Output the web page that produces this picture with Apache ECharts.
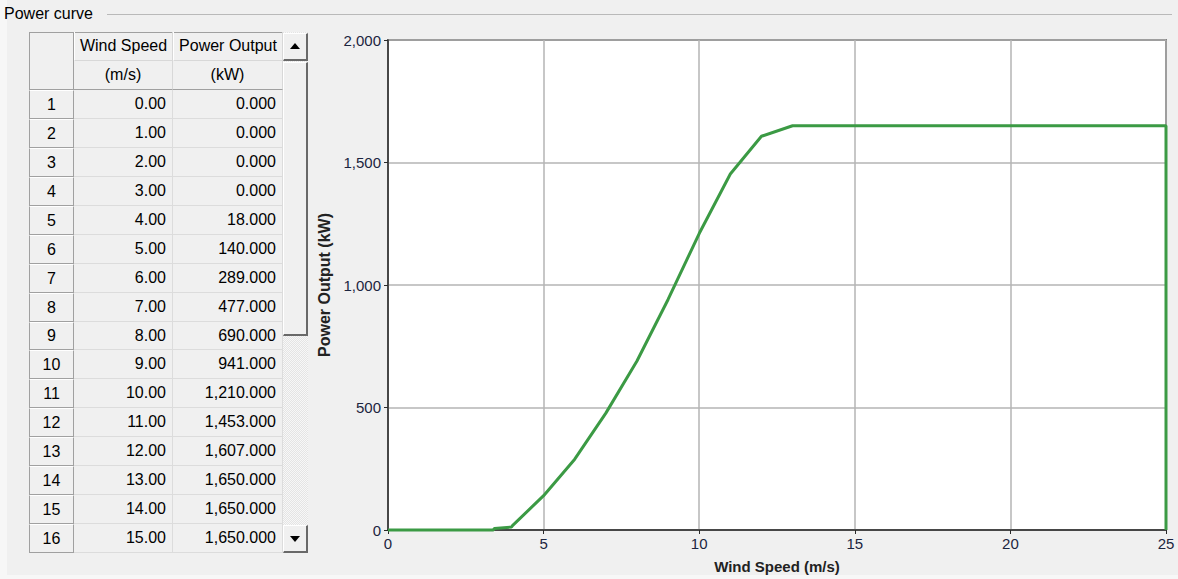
<!DOCTYPE html>
<html>
<head>
<meta charset="utf-8">
<script src="https://cdn.jsdelivr.net/npm/echarts@6/dist/echarts.min.js"></script>
<style>
html,body{margin:0;padding:0;width:1178px;height:579px;background:#f0f0f0;overflow:hidden;font-family:"Liberation Sans",Arial,sans-serif;}
#chart{position:absolute;left:0;top:0;width:1178px;height:579px;z-index:1;}
#ui{position:absolute;left:0;top:0;width:1178px;height:579px;z-index:2;pointer-events:none;}
.abs{position:absolute;box-sizing:border-box;}
.txt{font-size:16px;color:#000;line-height:1;display:flex;align-items:center;white-space:nowrap;}
</style>
</head>
<body>
<div id="chart"></div>
<div id="ui"></div>
<script>
// ---- data ----
const groupTitle = "Power curve";
const colHeaders = ["Wind Speed", "Power Output"];
const colUnits = ["(m/s)", "(kW)"];
const tableRowNums = [1,2,3,4,5,6,7,8,9,10,11,12,13,14,15,16];
const tableSpeed = ["0.00","1.00","2.00","3.00","4.00","5.00","6.00","7.00","8.00","9.00","10.00","11.00","12.00","13.00","14.00","15.00"];
const tablePower = ["0.000","0.000","0.000","0.000","18.000","140.000","289.000","477.000","690.000","941.000","1,210.000","1,453.000","1,607.000","1,650.000","1,650.000","1,650.000"];

const curveSpeed = [0,1,2,3,3.38,3.42,3.97,4,5,6,7,8,9,10,11,12,13,14,15,16,17,18,19,20,21,22,23,24,25,25];
const curvePower = [0,0,0,0,0,6,12,18,140,289,477,690,941,1210,1453,1607,1650,1650,1650,1650,1650,1650,1650,1650,1650,1650,1650,1650,1650,0];

const xTicks = [0,5,10,15,20,25];
const yTicks = [0,500,1000,1500,2000];
const xName = "Wind Speed (m/s)";
const yName = "Power Output (kW)";

// ---- UI (group box + table) ----
const ui = document.getElementById('ui');
function box(x,y,w,h,style,html){
  const d=document.createElement('div');d.className='abs';
  d.style.left=x+'px';d.style.top=y+'px';d.style.width=w+'px';d.style.height=h+'px';
  if(style) d.style.cssText+=style;
  if(html!==undefined) d.innerHTML=html;
  ui.appendChild(d);return d;
}
// group box
box(0,0,7,579,'background:#f7f7f7;');
box(0,575,1178,4,'background:#f7f7f7;');
box(107,14,1065,1,'background:#b9b9b9;');
box(4,3,100,22,'','<div class="txt" style="height:22px;font-size:16px;">'+groupTitle+'</div>');

const cx=[29,74,173,283,308];
const hy=[32,61,90];
const rowH=(553-90)/16;
// table outer
box(29,32,279,521,'background:#f0f0f0;border:1px solid #a0a0a0;border-right:none;border-bottom:none;');
// corner header
box(30,33,44,57,'border-right:1px solid #a0a0a0;border-bottom:1px solid #a0a0a0;');
// column headers
for(let c=0;c<2;c++){
  const x=cx[c+1], w=cx[c+2]-cx[c+1];
  box(x,hy[0],w,hy[1]-hy[0],'border-right:1px solid #d8d8d8;border-bottom:1px solid #d8d8d8;border-left:1px solid #fff;','<div class="txt" style="height:100%;justify-content:center;">'+colHeaders[c]+'</div>');
  box(x,hy[1],w,hy[2]-hy[1],'border-right:1px solid #d8d8d8;border-bottom:1px solid #a0a0a0;','<div class="txt" style="height:100%;justify-content:center;">'+colUnits[c]+'</div>');
}
// rows
for(let i=0;i<tableRowNums.length;i++){
  const y=Math.round(hy[2]+i*rowH), y2=Math.round(hy[2]+(i+1)*rowH), h=y2-y;
  box(cx[0],y,cx[1]-cx[0],h,'border-top:1px solid #fff;border-bottom:1px solid #a0a0a0;border-right:1px solid #a0a0a0;border-left:1px solid #a0a0a0;','<div class="txt" style="height:100%;justify-content:center;">'+tableRowNums[i]+'</div>');
  box(cx[1],y,cx[2]-cx[1],h,'border-bottom:1px solid #dcdcdc;border-right:1px solid #dcdcdc;','<div class="txt" style="height:100%;justify-content:flex-end;padding-right:6px;">'+tableSpeed[i]+'</div>');
  box(cx[2],y,cx[3]-cx[2],h,'border-bottom:1px solid #dcdcdc;border-right:1px solid #dcdcdc;','<div class="txt" style="height:100%;justify-content:flex-end;padding-right:6px;">'+tablePower[i]+'</div>');
}
// scrollbar
box(283,32,25,521,'background:repeating-conic-gradient(#f7f7f7 0 25%,#e4e4e4 0 50%) 0 0/2px 2px;');
box(283,33,25,28,'background:#f0f0f0;border-top:1px solid #fff;border-left:1px solid #fff;border-right:2px solid #696969;border-bottom:2px solid #696969;','<div style="width:0;height:0;margin:9px auto 0;border-left:5px solid transparent;border-right:5px solid transparent;border-bottom:6px solid #000;"></div>');
box(283,62,25,274,'background:#f0f0f0;border-top:1px solid #fff;border-left:1px solid #fff;border-right:2px solid #696969;border-bottom:2px solid #696969;');
box(283,525,25,28,'background:#f0f0f0;border-top:1px solid #fff;border-left:1px solid #fff;border-right:2px solid #696969;border-bottom:2px solid #696969;','<div style="width:0;height:0;margin:10px auto 0;border-left:5px solid transparent;border-right:5px solid transparent;border-top:6px solid #000;"></div>');

// ---- chart ----
const chart = echarts.init(document.getElementById('chart'), null, {renderer:'svg'});
const pts = curveSpeed.map((s,i)=>[s,curvePower[i]]);
const labelColor = '#1c2540';
chart.setOption({
  backgroundColor:'transparent',
  animation:false,
  grid:{left:388,top:40,right:12,bottom:47,show:true,backgroundColor:'#ffffff',borderColor:'#2a2a2a',borderWidth:1.5},
  xAxis:{
    type:'value',min:xTicks[0],max:xTicks[xTicks.length-1],interval:5,
    name:xName,nameLocation:'middle',nameGap:29,
    nameTextStyle:{fontFamily:'Liberation Sans',fontWeight:'bold',fontSize:15,color:'#222'},
    axisLine:{show:true,lineStyle:{color:'#2a2a2a',width:1.5}},
    axisTick:{show:true,length:4,lineStyle:{color:'#2a2a2a'}},
    axisLabel:{fontFamily:'Liberation Sans',fontSize:15,color:labelColor,margin:6},
    splitLine:{show:true,lineStyle:{color:'#b4b4b4',width:1.5}}
  },
  yAxis:{
    type:'value',min:yTicks[0],max:yTicks[yTicks.length-1],interval:500,
    name:yName,nameLocation:'middle',nameGap:51,nameRotate:90,
    nameTextStyle:{fontFamily:'Liberation Sans',fontWeight:'bold',fontSize:16,color:'#222'},
    axisLine:{show:true,lineStyle:{color:'#2a2a2a',width:1.5}},
    axisTick:{show:true,length:4,lineStyle:{color:'#2a2a2a'}},
    axisLabel:{fontFamily:'Liberation Sans',fontSize:15,color:labelColor,margin:7,
      formatter:v=>v.toLocaleString('en-US')},
    splitLine:{show:true,lineStyle:{color:'#b4b4b4',width:1.5}}
  },
  series:[{
    type:'line',data:pts,showSymbol:false,symbol:'none',
    lineStyle:{color:'#3b9a44',width:3},
    clip:false
  }]
});
</script>
</body>
</html>
